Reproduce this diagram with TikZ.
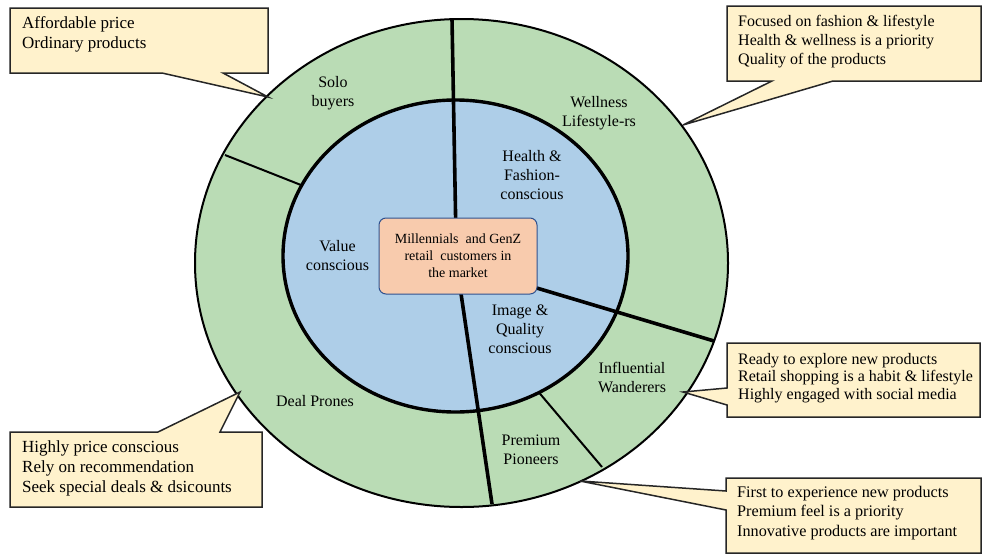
\documentclass[tikz,border=0pt]{standalone}
\usepackage{fontspec}
\setmainfont{Liberation Serif}
\newfontfamily\lserif{Liberation Serif}
\definecolor{ringgreen}{RGB}{186,220,181}
\definecolor{coreblue}{RGB}{174,206,232}
\definecolor{peach}{RGB}{248,203,173}
\definecolor{boxblue}{RGB}{47,82,143}
\definecolor{notefill}{RGB}{255,242,204}
\begin{document}
\begin{tikzpicture}[x=1pt,y=-1pt,
  seglabel/.style={align=center,inner sep=0pt,font=\lserif\fontsize{16}{19}\selectfont},
  notetext/.style={align=left,inner sep=0pt,anchor=north west,font=\lserif\fontsize{16}{19.5}\selectfont},
  callout/.style={draw=black!85,fill=notefill,line width=1.5pt,line join=miter},
  thinsep/.style={draw=black,line width=2pt},
  thicksep/.style={draw=black,line width=3.6pt}]
\useasboundingbox (0,0) rectangle (982,554);
\fill[white] (0,0) rectangle (982,554);

% coordinates
\coordinate (oc) at (461.5,263);
\coordinate (ic) at (455.5,256);
\coordinate (sA1) at (225,155);  \coordinate (sA2) at (306,187);
\coordinate (sB1) at (536,389);  \coordinate (sB2) at (602,467);
\coordinate (tTop) at (452,19);  \coordinate (tTopIn) at (456,240);
\coordinate (tRight) at (714,341); \coordinate (tRightIn) at (520,283);
\coordinate (tBot) at (492,504); \coordinate (tBotIn) at (459,280);

% outer ring
\path[draw=black,fill=ringgreen,line width=2pt] (oc) ellipse [x radius=266.5pt, y radius=244pt];
\draw[thinsep] (sA1) -- (sA2);
\draw[thinsep] (sB2) -- (sB1);
% inner disc
\path[draw=black,fill=coreblue,line width=3.4pt] (ic) ellipse [x radius=172.5pt, y radius=156pt];
% thick separators
\draw[thicksep] (tTopIn) -- (tTop);
\draw[thicksep] (tRightIn) -- (tRight);
\draw[thicksep] (tBotIn) -- (tBot);

% centre box
\node[draw=boxblue,fill=peach,rounded corners=7pt,line width=1pt,minimum width=158pt,minimum height=76pt,inner sep=0pt,
      align=center,font=\lserif\fontsize{14}{17}\selectfont] (core) at (458,256)
  {Millennials~~and GenZ\\retail~~customers in\\the market};

% segment labels
\node[seglabel] (solo) at (333,93) {Solo\\buyers};
\node[seglabel] (well) at (599,113) {Wellness\\Lifestyle-rs};
\node[seglabel] (health) at (532,175) {Health \&\\Fashion-\\conscious};
\node[seglabel] (value) at (337.5,256) {Value\\conscious};
\node[seglabel] (image) at (520,329) {Image \&\\Quality\\conscious};
\node[seglabel] (infl) at (632,377) {Influential\\Wanderers};
\node[seglabel] (deal) at (315,401) {Deal Prones};
\node[seglabel] (prem) at (531,450) {Premium\\Pioneers};

% callouts
\coordinate (tipA) at (268,97);
\coordinate (tipB) at (683,125);
\coordinate (tipC) at (683,392);
\coordinate (tipD) at (580,481);
\coordinate (tipE) at (240,392);

\draw[callout] (10,8) -- (268,8) -- (268,73) -- (223,73) -- (tipA) -- (162,73) -- (10,73) -- cycle;
\node[notetext,font=\lserif\fontsize{17}{20}\selectfont] (noteA) at (22,16.5) {Affordable price\\Ordinary products};

\draw[callout] (727,6) -- (981,6) -- (981,81) -- (833,81) -- (tipB) -- (772,81) -- (727,81) -- cycle;
\node[notetext,font=\lserif\fontsize{16}{19}\selectfont] (noteB) at (738,15) {Focused on fashion \& lifestyle\\Health \& wellness is a priority\\Quality of the products};

\draw[callout] (727,343) -- (980,343) -- (980,417) -- (727,417) -- (727,405) -- (tipC) -- (727,388) -- cycle;
\node[notetext,font=\lserif\fontsize{16}{17.5}\selectfont] (noteC) at (738,353) {Ready to explore new products\\Retail shopping is a habit \& lifestyle\\Highly engaged with social media};

\draw[callout] (726,478) -- (981,478) -- (981,553) -- (726,553) -- (726,510) -- (tipD) -- (726,491) -- cycle;
\node[notetext,font=\lserif\fontsize{16.2}{19.5}\selectfont] (noteD) at (737,486) {First to experience new products\\Premium feel is a priority\\Innovative products are important};

\draw[callout] (10,432) -- (158,432) -- (tipE) -- (220,432) -- (262,432) -- (262,507) -- (10,507) -- cycle;
\node[notetext,font=\lserif\fontsize{17}{20}\selectfont] (noteE) at (22,440.5) {Highly price conscious\\Rely on recommendation\\Seek special deals \& dsicounts};
\end{tikzpicture}
\end{document}
